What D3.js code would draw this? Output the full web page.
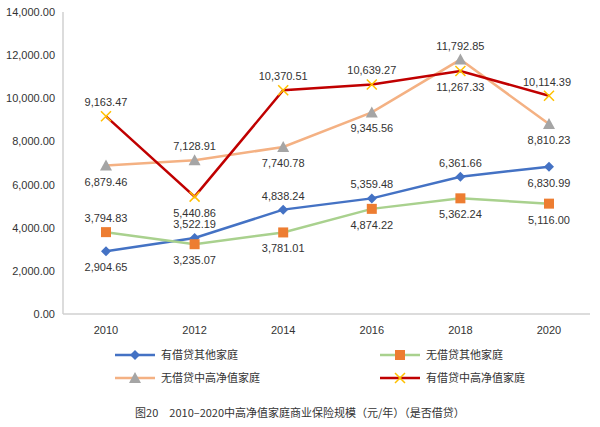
<!DOCTYPE html>
<html><head><meta charset="utf-8">
<script src="https://cdn.jsdelivr.net/npm/d3@7"></script>
<style>body{margin:0;background:#fff}text{font-family:"Liberation Sans",Arial,sans-serif}</style>
</head><body>
<script>
const years = [2010, 2012, 2014, 2016, 2018, 2020];
const seriesNames = ["有借贷其他家庭", "无借贷其他家庭", "无借贷中高净值家庭", "有借贷中高净值家庭"];
const loanOther = [2904.65, 3522.19, 4838.24, 5359.48, 6361.66, 6830.99];
const noLoanOther = [3794.83, 3235.07, 3781.01, 4874.22, 5362.24, 5116.00];
const noLoanRich = [6879.46, 7128.91, 7740.78, 9345.56, 11792.85, 8810.23];
const loanRich = [9163.47, 5440.86, 10370.51, 10639.27, 11267.33, 10114.39];
const yTicks = [0, 2000, 4000, 6000, 8000, 10000, 12000, 14000];

// label placement: 1 = above, -1 = below
const series = [
  {vals: loanOther, line: "#4472c4", mark: "diamond", fill: "#4472c4", pos: [-1, 1, 1, 1, 1, -1], dx: [0,0,0,0,0,0]},
  {vals: noLoanOther, line: "#a9d18e", mark: "square", fill: "#ed7d31", pos: [1, -1, -1, -1, -1, -1], dx: [0,0,0,0,0,0]},
  {vals: noLoanRich, line: "#f4b183", mark: "triangle", fill: "#a5a5a5", pos: [-1, 1, -1, -1, 1, -1], dx: [0,0,0,0,0,0]},
  {vals: loanRich, line: "#c00000", mark: "x", fill: "#ffc000", pos: [1, -1, 1, 1, -1, 1], dx: [0,0,0,0,0,-2]}
];

const svg = d3.select("body").append("svg").attr("width", 600).attr("height", 427);
const x = d3.scalePoint().domain(years).range([106, 549]);
const y = d3.scaleLinear().domain([0, 14000]).range([314, 12]);

svg.append("line").attr("x1", 63).attr("x2", 63).attr("y1", 12).attr("y2", 314).attr("stroke", "#d0d0d0").attr("stroke-width", 1.5);
svg.append("line").attr("x1", 63).attr("x2", 590).attr("y1", 314).attr("y2", 314).attr("stroke", "#d0d0d0").attr("stroke-width", 1.5);
svg.selectAll(".yt").data(yTicks).join("text").attr("x", 55).attr("y", d => y(d) + 4)
  .attr("text-anchor", "end").attr("font-size", 11).attr("fill", "#333").text(d => d3.format(",.2f")(d));
svg.selectAll(".xt").data(years).join("text").attr("x", d => x(d)).attr("y", 334)
  .attr("text-anchor", "middle").attr("font-size", 11).attr("fill", "#333").text(d => d);

function marker(g, type, fill, cx, cy) {
  if (type === "diamond") g.append("path").attr("d", `M${cx},${cy-5}L${cx+5},${cy}L${cx},${cy+5}L${cx-5},${cy}Z`).attr("fill", fill);
  else if (type === "square") g.append("rect").attr("x", cx-5).attr("y", cy-5).attr("width", 10).attr("height", 10).attr("fill", fill);
  else if (type === "triangle") g.append("path").attr("d", `M${cx},${cy-6}L${cx+6},${cy+5}L${cx-6},${cy+5}Z`).attr("fill", fill);
  else g.append("path").attr("d", `M${cx-5},${cy-5}L${cx+5},${cy+5}M${cx+5},${cy-5}L${cx-5},${cy+5}`).attr("stroke", fill).attr("stroke-width", 1.5);
}

series.forEach(s => {
  const line = d3.line().x((d, i) => x(years[i])).y(d => y(d));
  svg.append("path").attr("d", line(s.vals)).attr("fill", "none").attr("stroke", s.line).attr("stroke-width", 2.5);
});
series.forEach(s => {
  s.vals.forEach((v, i) => {
    marker(svg, s.mark, s.fill, x(years[i]), y(v));
    svg.append("text").attr("x", x(years[i]) + s.dx[i]).attr("y", y(v) + (s.pos[i] > 0 ? -10 : 20))
      .attr("text-anchor", "middle").attr("font-size", 11).attr("fill", "#333").text(d3.format(",.2f")(v));
  });
});

// legend
const leg = [[115, 355], [380, 355], [115, 378], [380, 378]];
series.forEach((s, i) => {
  const [lx, ly] = leg[i];
  svg.append("line").attr("x1", lx).attr("x2", lx + 40).attr("y1", ly).attr("y2", ly).attr("stroke", s.line).attr("stroke-width", 2.5);
  marker(svg, s.mark, s.fill, lx + 20, ly);
  svg.append("text").attr("x", lx + 46).attr("y", ly + 4).attr("font-size", 11).attr("fill", "#333")
    .style("font-family", "'Noto Sans CJK SC'").text(seriesNames[i]);
});

svg.append("text").attr("x", 300).attr("y", 417).attr("text-anchor", "middle").attr("font-size", 11).attr("fill", "#333")
  .style("font-family", "'Noto Sans CJK SC'").text("图20　2010–2020中高净值家庭商业保险规模（元/年）（是否借贷）");
</script>
</body></html>
